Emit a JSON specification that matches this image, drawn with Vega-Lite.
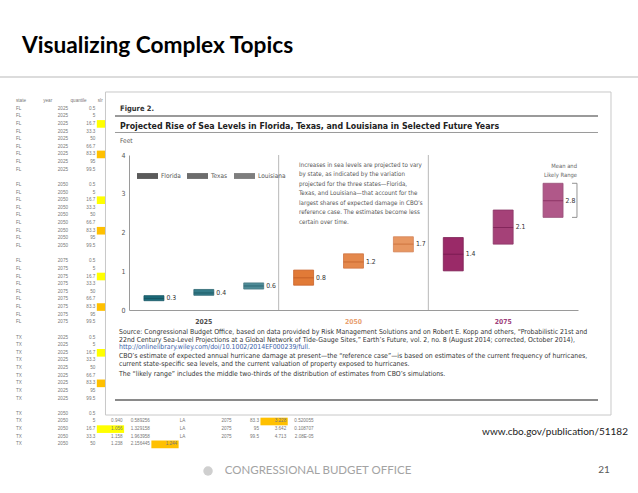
{
  "$schema": "https://vega.github.io/schema/vega-lite/v6.json",
  "width": 638,
  "height": 493,
  "autosize": "none",
  "padding": 0,
  "background": "white",
  "config": {"view": {"stroke": null}, "font": "Liberation Sans", "legend": {"symbolBaseFillColor": "#5a5a5a", "symbolBaseStrokeColor": "transparent"}},
  "datasets": {
    "bars": [
      {"year": 2025, "state": "Florida", "low": 0.24, "mean": 0.30, "high": 0.37},
      {"year": 2025, "state": "Texas", "low": 0.38, "mean": 0.44, "high": 0.53},
      {"year": 2025, "state": "Louisiana", "low": 0.54, "mean": 0.62, "high": 0.70},
      {"year": 2050, "state": "Florida", "low": 0.64, "mean": 0.83, "high": 1.03},
      {"year": 2050, "state": "Texas", "low": 1.08, "mean": 1.24, "high": 1.45},
      {"year": 2050, "state": "Louisiana", "low": 1.50, "mean": 1.70, "high": 1.89},
      {"year": 2075, "state": "Florida", "low": 1.01, "mean": 1.44, "high": 1.87},
      {"year": 2075, "state": "Texas", "low": 1.70, "mean": 2.13, "high": 2.58},
      {"year": 2075, "state": "Louisiana", "low": 2.39, "mean": 2.82, "high": 3.27}
    ],
    "sheet": [
      {"r": 0, "A": "state", "B": "year", "C": "quantile", "D": "slr"},
      {"r": 1, "A": "FL", "B": "2025", "C": "0.5"},
      {"r": 2, "A": "FL", "B": "2025", "C": "5"},
      {"r": 3, "A": "FL", "B": "2025", "C": "16.7"},
      {"r": 4, "A": "FL", "B": "2025", "C": "33.3"},
      {"r": 5, "A": "FL", "B": "2025", "C": "50"},
      {"r": 6, "A": "FL", "B": "2025", "C": "66.7"},
      {"r": 7, "A": "FL", "B": "2025", "C": "83.3"},
      {"r": 8, "A": "FL", "B": "2025", "C": "95"},
      {"r": 9, "A": "FL", "B": "2025", "C": "99.5"},
      {"r": 11, "A": "FL", "B": "2050", "C": "0.5"},
      {"r": 12, "A": "FL", "B": "2050", "C": "5"},
      {"r": 13, "A": "FL", "B": "2050", "C": "16.7"},
      {"r": 14, "A": "FL", "B": "2050", "C": "33.3"},
      {"r": 15, "A": "FL", "B": "2050", "C": "50"},
      {"r": 16, "A": "FL", "B": "2050", "C": "66.7"},
      {"r": 17, "A": "FL", "B": "2050", "C": "83.3"},
      {"r": 18, "A": "FL", "B": "2050", "C": "95"},
      {"r": 19, "A": "FL", "B": "2050", "C": "99.5"},
      {"r": 21, "A": "FL", "B": "2075", "C": "0.5"},
      {"r": 22, "A": "FL", "B": "2075", "C": "5"},
      {"r": 23, "A": "FL", "B": "2075", "C": "16.7"},
      {"r": 24, "A": "FL", "B": "2075", "C": "33.3"},
      {"r": 25, "A": "FL", "B": "2075", "C": "50"},
      {"r": 26, "A": "FL", "B": "2075", "C": "66.7"},
      {"r": 27, "A": "FL", "B": "2075", "C": "83.3"},
      {"r": 28, "A": "FL", "B": "2075", "C": "95"},
      {"r": 29, "A": "FL", "B": "2075", "C": "99.5"},
      {"r": 31, "A": "TX", "B": "2025", "C": "0.5"},
      {"r": 32, "A": "TX", "B": "2025", "C": "5"},
      {"r": 33, "A": "TX", "B": "2025", "C": "16.7"},
      {"r": 34, "A": "TX", "B": "2025", "C": "33.3"},
      {"r": 35, "A": "TX", "B": "2025", "C": "50"},
      {"r": 36, "A": "TX", "B": "2025", "C": "66.7"},
      {"r": 37, "A": "TX", "B": "2025", "C": "83.3"},
      {"r": 38, "A": "TX", "B": "2025", "C": "95"},
      {"r": 39, "A": "TX", "B": "2025", "C": "99.5"},
      {"r": 41, "A": "TX", "B": "2050", "C": "0.5"},
      {"r": 42, "A": "TX", "B": "2050", "C": "5", "D": "0.940", "E": "0.589256", "G": "LA", "H": "2075", "I": "83.3", "J": "3.228", "K": "0.520055"},
      {"r": 43, "A": "TX", "B": "2050", "C": "16.7", "D": "1.056", "E": "1.329158", "G": "LA", "H": "2075", "I": "95", "J": "3.642", "K": "0.108707"},
      {"r": 44, "A": "TX", "B": "2050", "C": "33.3", "D": "1.158", "E": "1.963958", "G": "LA", "H": "2075", "I": "99.5", "J": "4.713", "K": "2.08E-05"},
      {"r": 45, "A": "TX", "B": "2050", "C": "50", "D": "1.238", "E": "2.156445", "F": "1.244"}
    ],
    "highlights": [
      {"r": 3, "col": "D", "q": "low"},
      {"r": 7, "col": "D", "q": "high"},
      {"r": 13, "col": "D", "q": "low"},
      {"r": 17, "col": "D", "q": "high"},
      {"r": 23, "col": "D", "q": "low"},
      {"r": 27, "col": "D", "q": "high"},
      {"r": 33, "col": "D", "q": "low"},
      {"r": 37, "col": "D", "q": "high"},
      {"r": 43, "col": "D", "q": "low"},
      {"r": 42, "col": "J", "q": "high"},
      {"r": 45, "col": "F", "q": "high"}
    ]
  },
  "layer": [
    {
      "layer": [
        {
          "data": {"name": "highlights"},
          "mark": {"type": "rect"},
          "encoding": {
            "x": {"field": "col", "type": "nominal", "scale": {"type": "band", "domain": ["A","B","C","D","E","F","G","H","I","J","K"], "range": [15, 315], "paddingInner": 0, "paddingOuter": 0}, "axis": null},
            "y": {"field": "r", "type": "ordinal", "scale": {"type": "band", "domain": [0,1,2,3,4,5,6,7,8,9,10,11,12,13,14,15,16,17,18,19,20,21,22,23,24,25,26,27,28,29,30,31,32,33,34,35,36,37,38,39,40,41,42,43,44,45], "range": [97.2, 448.2], "paddingInner": 0, "paddingOuter": 0}, "axis": null},
            "fill": {"field": "q", "type": "nominal", "scale": {"domain": ["low", "high"], "range": ["#ffff00", "#ffc000"]}, "legend": null}
          }
        },
        {
          "data": {"name": "sheet"},
          "transform": [
            {"fold": ["A","B","C","D","E","F","G","H","I","J","K"], "as": ["col", "v"]},
            {"filter": "isValid(datum.v) && isNaN(toNumber(datum.v))"}
          ],
          "mark": {"type": "text", "align": "left", "baseline": "middle", "fontSize": 4.6, "color": "#777", "dx": 1},
          "encoding": {
            "x": {"field": "col", "type": "nominal", "bandPosition": 0, "scale": {"type": "band", "domain": ["A","B","C","D","E","F","G","H","I","J","K"], "range": [15, 315], "paddingInner": 0, "paddingOuter": 0}, "axis": null},
            "y": {"field": "r", "type": "ordinal", "bandPosition": 0.5, "scale": {"type": "band", "domain": [0,1,2,3,4,5,6,7,8,9,10,11,12,13,14,15,16,17,18,19,20,21,22,23,24,25,26,27,28,29,30,31,32,33,34,35,36,37,38,39,40,41,42,43,44,45], "range": [97.2, 448.2], "paddingInner": 0, "paddingOuter": 0}, "axis": null},
            "text": {"field": "v"}
          }
        },
        {
          "data": {"name": "sheet"},
          "transform": [
            {"fold": ["A","B","C","D","E","F","G","H","I","J","K"], "as": ["col", "v"]},
            {"filter": "isValid(datum.v) && !isNaN(toNumber(datum.v))"}
          ],
          "mark": {"type": "text", "align": "right", "baseline": "middle", "fontSize": 4.6, "color": "#777", "dx": -1.5},
          "encoding": {
            "x": {"field": "col", "type": "nominal", "bandPosition": 1, "scale": {"type": "band", "domain": ["A","B","C","D","E","F","G","H","I","J","K"], "range": [15, 315], "paddingInner": 0, "paddingOuter": 0}, "axis": null},
            "y": {"field": "r", "type": "ordinal", "bandPosition": 0.5, "scale": {"type": "band", "domain": [0,1,2,3,4,5,6,7,8,9,10,11,12,13,14,15,16,17,18,19,20,21,22,23,24,25,26,27,28,29,30,31,32,33,34,35,36,37,38,39,40,41,42,43,44,45], "range": [97.2, 448.2], "paddingInner": 0, "paddingOuter": 0}, "axis": null},
            "text": {"field": "v"}
          }
        }
      ]
    },
    {
      "layer": [
        {
          "data": {"values": [{}]},
          "mark": {"type": "rect", "fill": "white", "stroke": "#c8c8c8", "strokeWidth": 1},
          "encoding": {
            "x": {"datum": 2008.57, "type": "quantitative", "scale": {"type": "linear", "domain": [2012.5, 2087.5], "range": [129, 578], "zero": false, "nice": false}, "axis": null},
            "x2": {"datum": 2093.01},
            "y": {"datum": 5.626, "type": "quantitative", "scale": {"type": "linear", "domain": [0, 4], "range": [310, 155], "zero": false, "nice": false}, "axis": null},
            "y2": {"datum": -2.71}
          }
        },
        {
          "data": {"values": [{}]},
          "mark": {"type": "rule", "stroke": "#d0d0d0", "strokeWidth": 1.5},
          "encoding": {
            "x": {"datum": 1990.95, "type": "quantitative", "scale": {"type": "linear", "domain": [2012.5, 2087.5], "range": [129, 578], "zero": false, "nice": false}, "axis": null},
            "x2": {"datum": 2097.52},
            "y": {"datum": 6.013, "type": "quantitative", "scale": {"type": "linear", "domain": [0, 4], "range": [310, 155], "zero": false, "nice": false}, "axis": null}
          }
        },
        {
          "data": {"values": [{}]},
          "mark": {"type": "text", "text": "Visualizing Complex Topics", "font": "Lato", "fontWeight": "bold", "fontSize": 22.7, "color": "#000000", "align": "left", "baseline": "alphabetic"},
          "encoding": {
            "x": {"datum": 1994.63, "type": "quantitative", "scale": {"type": "linear", "domain": [2012.5, 2087.5], "range": [129, 578], "zero": false, "nice": false}, "axis": null},
            "y": {"datum": 6.632, "type": "quantitative", "scale": {"type": "linear", "domain": [0, 4], "range": [310, 155], "zero": false, "nice": false}, "axis": null}
          }
        },
        {
          "data": {"values": [{}]},
          "mark": {"type": "rule", "stroke": "#9a9a9a", "strokeWidth": 2},
          "encoding": {
            "x": {"datum": 2010.16, "type": "quantitative", "scale": {"type": "linear", "domain": [2012.5, 2087.5], "range": [129, 578], "zero": false, "nice": false}, "axis": null},
            "x2": {"datum": 2090.84},
            "y": {"datum": 5.006, "type": "quantitative", "scale": {"type": "linear", "domain": [0, 4], "range": [310, 155], "zero": false, "nice": false}, "axis": null}
          }
        },
        {
          "data": {"values": [{}]},
          "mark": {"type": "rule", "stroke": "#9a9a9a", "strokeWidth": 1},
          "encoding": {
            "x": {"datum": 2010.16, "type": "quantitative", "scale": {"type": "linear", "domain": [2012.5, 2087.5], "range": [129, 578], "zero": false, "nice": false}, "axis": null},
            "x2": {"datum": 2090.84},
            "y": {"datum": 4.581, "type": "quantitative", "scale": {"type": "linear", "domain": [0, 4], "range": [310, 155], "zero": false, "nice": false}, "axis": null}
          }
        },
        {
          "data": {"values": [{}]},
          "mark": {"type": "rule", "stroke": "#8a8a8a", "strokeWidth": 2},
          "encoding": {
            "x": {"datum": 2010.16, "type": "quantitative", "scale": {"type": "linear", "domain": [2012.5, 2087.5], "range": [129, 578], "zero": false, "nice": false}, "axis": null},
            "x2": {"datum": 2090.84},
            "y": {"datum": -2.323, "type": "quantitative", "scale": {"type": "linear", "domain": [0, 4], "range": [310, 155], "zero": false, "nice": false}, "axis": null}
          }
        },
        {
          "data": {"values": [{}]},
          "mark": {"type": "text", "text": "Figure 2.", "font": "Liberation Sans Narrow, DejaVu Sans Condensed, sans-serif", "fontWeight": "bold", "fontSize": 7.5, "color": "#333", "align": "left", "baseline": "middle"},
          "encoding": {
            "x": {"datum": 2011.0, "type": "quantitative", "scale": {"type": "linear", "domain": [2012.5, 2087.5], "range": [129, 578], "zero": false, "nice": false}, "axis": null},
            "y": {"datum": 5.187, "type": "quantitative", "scale": {"type": "linear", "domain": [0, 4], "range": [310, 155], "zero": false, "nice": false}, "axis": null}
          }
        },
        {
          "data": {"values": [{}]},
          "mark": {"type": "text", "text": "Projected Rise of Sea Levels in Florida, Texas, and Louisiana in Selected Future Years", "font": "Liberation Sans Narrow, DejaVu Sans Condensed, sans-serif", "fontWeight": "bold", "fontSize": 8.75, "color": "#222", "align": "left", "baseline": "middle"},
          "encoding": {
            "x": {"datum": 2011.0, "type": "quantitative", "scale": {"type": "linear", "domain": [2012.5, 2087.5], "range": [129, 578], "zero": false, "nice": false}, "axis": null},
            "y": {"datum": 4.761, "type": "quantitative", "scale": {"type": "linear", "domain": [0, 4], "range": [310, 155], "zero": false, "nice": false}, "axis": null}
          }
        },
        {
          "data": {"values": [{}]},
          "mark": {"type": "text", "text": "Feet", "font": "Liberation Sans Narrow, DejaVu Sans Condensed, sans-serif", "fontSize": 6.5, "color": "#555", "align": "left", "baseline": "middle"},
          "encoding": {
            "x": {"datum": 2011.0, "type": "quantitative", "scale": {"type": "linear", "domain": [2012.5, 2087.5], "range": [129, 578], "zero": false, "nice": false}, "axis": null},
            "y": {"datum": 4.361, "type": "quantitative", "scale": {"type": "linear", "domain": [0, 4], "range": [310, 155], "zero": false, "nice": false}, "axis": null}
          }
        },
        {
          "data": {"values": [{}]},
          "mark": {"type": "text", "text": ["Increases in sea levels are projected to vary", "by state, as indicated by the variation", "projected for the three states—Florida,", "Texas, and Louisiana—that account for the", "largest shares of expected damage in CBO’s", "reference case. The estimates become less", "certain over time."], "font": "Liberation Sans Narrow, DejaVu Sans Condensed, sans-serif", "fontSize": 6.2, "lineHeight": 9.5, "color": "#555", "align": "left", "baseline": "top"},
          "encoding": {
            "x": {"datum": 2040.9, "type": "quantitative", "scale": {"type": "linear", "domain": [2012.5, 2087.5], "range": [129, 578], "zero": false, "nice": false}, "axis": null},
            "y": {"datum": 3.832, "type": "quantitative", "scale": {"type": "linear", "domain": [0, 4], "range": [310, 155], "zero": false, "nice": false}, "axis": null}
          }
        },
        {
          "data": {"values": [{"boundary": 2037.5}, {"boundary": 2062.5}]},
          "mark": {"type": "rule", "stroke": "#b8b8b8", "strokeWidth": 1},
          "encoding": {
            "x": {"field": "boundary", "type": "quantitative", "scale": {"type": "linear", "domain": [2012.5, 2087.5], "range": [129, 578], "zero": false, "nice": false}, "axis": null},
            "y": {"datum": 0, "type": "quantitative", "scale": {"type": "linear", "domain": [0, 4], "range": [310, 155], "zero": false, "nice": false}, "axis": null},
            "y2": {"datum": 4}
          }
        },
        {
          "data": {"values": [{}]},
          "mark": {"type": "text", "text": ["Mean and", "Likely Range"], "font": "Liberation Sans Narrow, DejaVu Sans Condensed, sans-serif", "fontSize": 5.8, "lineHeight": 9, "color": "#666", "align": "right", "baseline": "top"},
          "encoding": {
            "x": {"datum": 2087.33, "type": "quantitative", "scale": {"type": "linear", "domain": [2012.5, 2087.5], "range": [129, 578], "zero": false, "nice": false}, "axis": null},
            "y": {"datum": 3.794, "type": "quantitative", "scale": {"type": "linear", "domain": [0, 4], "range": [310, 155], "zero": false, "nice": false}, "axis": null}
          }
        },
        {
          "data": {"values": [{}]},
          "mark": {"type": "rule", "stroke": "#777", "strokeWidth": 0.8},
          "encoding": {
            "x": {"datum": 2087.33, "type": "quantitative", "scale": {"type": "linear", "domain": [2012.5, 2087.5], "range": [129, 578], "zero": false, "nice": false}, "axis": null},
            "y": {"datum": 2.39, "type": "quantitative", "scale": {"type": "linear", "domain": [0, 4], "range": [310, 155], "zero": false, "nice": false}, "axis": null},
            "y2": {"datum": 3.27}
          }
        },
        {
          "data": {"values": [{"edge": 2.39}, {"edge": 3.27}]},
          "mark": {"type": "rule", "stroke": "#777", "strokeWidth": 0.8},
          "encoding": {
            "x": {"datum": 2086.5, "type": "quantitative", "scale": {"type": "linear", "domain": [2012.5, 2087.5], "range": [129, 578], "zero": false, "nice": false}, "axis": null},
            "x2": {"datum": 2087.33},
            "y": {"field": "edge", "type": "quantitative", "scale": {"type": "linear", "domain": [0, 4], "range": [310, 155], "zero": false, "nice": false}, "axis": null}
          }
        },
        {
          "data": {"values": [{}]},
          "mark": {"type": "text", "text": ["Source: Congressional Budget Office, based on data provided by Risk Management Solutions and on Robert E. Kopp and others, “Probabilistic 21st and", "22nd Century Sea-Level Projections at a Global Network of Tide-Gauge Sites,” Earth’s Future, vol. 2, no. 8 (August 2014; corrected, October 2014),"], "font": "Liberation Sans Narrow, DejaVu Sans Condensed, sans-serif", "fontSize": 6.9, "lineHeight": 7.6, "color": "#333", "align": "left", "baseline": "top"},
          "encoding": {
            "x": {"datum": 2010.83, "type": "quantitative", "scale": {"type": "linear", "domain": [2012.5, 2087.5], "range": [129, 578], "zero": false, "nice": false}, "axis": null},
            "y": {"datum": -0.49, "type": "quantitative", "scale": {"type": "linear", "domain": [0, 4], "range": [310, 155], "zero": false, "nice": false}, "axis": null}
          }
        },
        {
          "data": {"values": [{}]},
          "mark": {"type": "text", "text": "http://onlinelibrary.wiley.com/doi/10.1002/2014EF000239/full.", "font": "Liberation Sans Narrow, DejaVu Sans Condensed, sans-serif", "fontSize": 6.9, "color": "#3a62a8", "align": "left", "baseline": "top"},
          "encoding": {
            "x": {"datum": 2010.83, "type": "quantitative", "scale": {"type": "linear", "domain": [2012.5, 2087.5], "range": [129, 578], "zero": false, "nice": false}, "axis": null},
            "y": {"datum": -0.882, "type": "quantitative", "scale": {"type": "linear", "domain": [0, 4], "range": [310, 155], "zero": false, "nice": false}, "axis": null}
          }
        },
        {
          "data": {"values": [{}]},
          "mark": {"type": "text", "text": ["CBO’s estimate of expected annual hurricane damage at present—the “reference case”—is based on estimates of the current frequency of hurricanes,", "current state-specific sea levels, and the current valuation of property exposed to hurricanes."], "font": "Liberation Sans Narrow, DejaVu Sans Condensed, sans-serif", "fontSize": 6.9, "lineHeight": 7.6, "color": "#333", "align": "left", "baseline": "top"},
          "encoding": {
            "x": {"datum": 2010.83, "type": "quantitative", "scale": {"type": "linear", "domain": [2012.5, 2087.5], "range": [129, 578], "zero": false, "nice": false}, "axis": null},
            "y": {"datum": -1.117, "type": "quantitative", "scale": {"type": "linear", "domain": [0, 4], "range": [310, 155], "zero": false, "nice": false}, "axis": null}
          }
        },
        {
          "data": {"values": [{}]},
          "mark": {"type": "text", "text": "The “likely range” includes the middle two-thirds of the distribution of estimates from CBO’s simulations.", "font": "Liberation Sans Narrow, DejaVu Sans Condensed, sans-serif", "fontSize": 6.9, "color": "#333", "align": "left", "baseline": "top"},
          "encoding": {
            "x": {"datum": 2010.83, "type": "quantitative", "scale": {"type": "linear", "domain": [2012.5, 2087.5], "range": [129, 578], "zero": false, "nice": false}, "axis": null},
            "y": {"datum": -1.575, "type": "quantitative", "scale": {"type": "linear", "domain": [0, 4], "range": [310, 155], "zero": false, "nice": false}, "axis": null}
          }
        },
        {
          "data": {"values": [{}]},
          "mark": {"type": "text", "text": "www.cbo.gov/publication/51182", "font": "Lato", "fontSize": 10, "color": "#222", "align": "right", "baseline": "middle"},
          "encoding": {
            "x": {"datum": 2095.85, "type": "quantitative", "scale": {"type": "linear", "domain": [2012.5, 2087.5], "range": [129, 578], "zero": false, "nice": false}, "axis": null},
            "y": {"datum": -3.148, "type": "quantitative", "scale": {"type": "linear", "domain": [0, 4], "range": [310, 155], "zero": false, "nice": false}, "axis": null}
          }
        },
        {
          "data": {"values": [{}]},
          "mark": {"type": "point", "filled": true, "fill": "#cfcfcf", "size": 90, "opacity": 1},
          "encoding": {
            "x": {"datum": 2025.7, "type": "quantitative", "scale": {"type": "linear", "domain": [2012.5, 2087.5], "range": [129, 578], "zero": false, "nice": false}, "axis": null},
            "y": {"datum": -4.155, "type": "quantitative", "scale": {"type": "linear", "domain": [0, 4], "range": [310, 155], "zero": false, "nice": false}, "axis": null}
          }
        },
        {
          "data": {"values": [{}]},
          "mark": {"type": "text", "text": "CONGRESSIONAL BUDGET OFFICE", "font": "Lato", "fontSize": 11.5, "color": "#a3a3a3", "align": "center", "baseline": "middle"},
          "encoding": {
            "x": {"datum": 2044.07, "type": "quantitative", "scale": {"type": "linear", "domain": [2012.5, 2087.5], "range": [129, 578], "zero": false, "nice": false}, "axis": null},
            "y": {"datum": -4.155, "type": "quantitative", "scale": {"type": "linear", "domain": [0, 4], "range": [310, 155], "zero": false, "nice": false}, "axis": null}
          }
        },
        {
          "data": {"values": [{}]},
          "mark": {"type": "text", "text": "21", "font": "Lato", "fontSize": 10, "color": "#595959", "align": "center", "baseline": "middle"},
          "encoding": {
            "x": {"datum": 2091.84, "type": "quantitative", "scale": {"type": "linear", "domain": [2012.5, 2087.5], "range": [129, 578], "zero": false, "nice": false}, "axis": null},
            "y": {"datum": -4.129, "type": "quantitative", "scale": {"type": "linear", "domain": [0, 4], "range": [310, 155], "zero": false, "nice": false}, "axis": null}
          }
        }
      ]
    },
    {
      "data": {"name": "bars"},
      "layer": [
        {
          "mark": {"type": "rect", "strokeWidth": 0.8},
          "encoding": {
            "x": {"field": "year", "type": "ordinal", "scale": {"type": "band", "domain": [2025, 2050, 2075], "range": [129, 578], "paddingInner": 0, "paddingOuter": 0},
              "axis": {"orient": "bottom", "offset": -183, "zindex": 2, "title": null, "labelAngle": 0, "ticks": false, "tickSize": 0, "domainColor": "#9a9a9a", "domainWidth": 1, "labelPadding": 8, "labelFontSize": 6.8, "labelFontWeight": "bold", "labelFont": "Liberation Sans Narrow, DejaVu Sans Condensed, sans-serif", "labelColor": {"expr": "datum.value == 2025 ? '#4d4d4d' : datum.value == 2050 ? '#e9a171' : '#9e3f7c'"}, "grid": false}},
            "xOffset": {"field": "state", "type": "nominal", "scale": {"domain": ["Florida", "Texas", "Louisiana"], "paddingInner": 0.6, "paddingOuter": 0.3}},
            "y": {"field": "low", "type": "quantitative", "scale": {"domain": [0, 4], "range": [310, 155], "nice": false, "zero": false},
              "axis": {"orient": "left", "offset": -129, "zindex": 2, "title": null, "values": [0, 1, 2, 3, 4], "format": "d", "labelOverlap": false, "ticks": false, "tickSize": 0, "domainColor": "#9a9a9a", "labelPadding": 4, "labelFontSize": 7, "labelColor": "#555", "labelFont": "Liberation Sans Narrow, DejaVu Sans Condensed, sans-serif", "grid": false}},
            "y2": {"field": "high"},
            "fill": {"field": "year", "type": "ordinal", "scale": {"domain": [2025, 2050, 2075], "range": ["#1d6b7a", "#e17a37", "#9a2a68"]}, "legend": null},
            "stroke": {"field": "year", "type": "ordinal", "scale": {"domain": [2025, 2050, 2075], "range": ["#155663", "#c9622a", "#7c1e53"]}, "legend": null},
            "opacity": {"field": "state", "type": "nominal", "scale": {"domain": ["Florida", "Texas", "Louisiana"], "range": [1, 0.78, 0.52]},
              "legend": {"orient": "none", "legendX": 137, "legendY": 165.5, "direction": "horizontal", "title": null, "symbolType": "M-1,-0.28H1V0.28H-1Z", "symbolSize": 441, "symbolFillColor": "#5a5a5a", "symbolStrokeWidth": 0, "labelFontSize": 6.5, "labelColor": "#555", "labelFont": "Liberation Sans Narrow, DejaVu Sans Condensed, sans-serif", "labelOffset": 3, "columnPadding": 6, "padding": 0}}
          }
        },
        {
          "mark": {"type": "tick", "thickness": 1, "size": 20},
          "encoding": {
            "x": {"field": "year", "type": "ordinal"},
            "xOffset": {"field": "state", "type": "nominal"},
            "y": {"field": "mean", "type": "quantitative"},
            "color": {"field": "year", "type": "ordinal", "scale": {"domain": [2025, 2050, 2075], "range": ["#124b57", "#b9561f", "#6e1649"]}, "legend": null},
            "fillOpacity": {"field": "state", "type": "nominal", "scale": {"domain": ["Florida", "Texas", "Louisiana"], "range": [1, 0.75, 0.55]}, "legend": null}
          }
        },
        {
          "mark": {"type": "text", "align": "left", "baseline": "middle", "dx": 12.5, "fontSize": 6.8, "color": "#333", "font": "Liberation Sans Narrow, DejaVu Sans Condensed, sans-serif"},
          "encoding": {
            "x": {"field": "year", "type": "ordinal"},
            "xOffset": {"field": "state", "type": "nominal"},
            "y": {"field": "mean", "type": "quantitative"},
            "text": {"field": "mean", "type": "quantitative", "format": ".1f"}
          }
        }
      ]
    }
  ],
  "resolve": {
    "scale": {"x": "independent", "y": "independent", "fill": "independent", "stroke": "independent", "opacity": "independent", "color": "independent", "fillOpacity": "independent", "xOffset": "independent"},
    "axis": {"x": "independent", "y": "independent"}
  }
}
